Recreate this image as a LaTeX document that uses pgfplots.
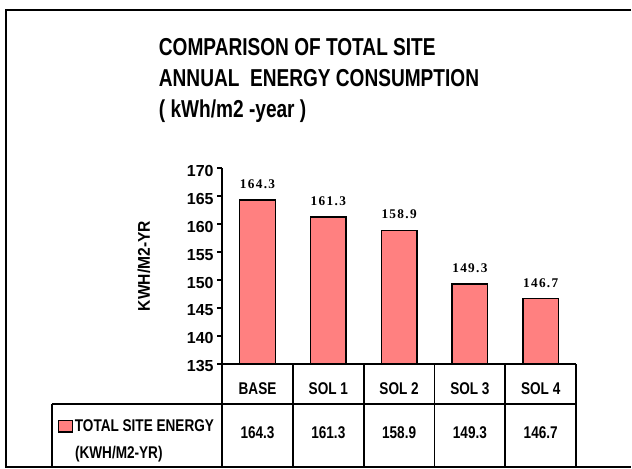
\documentclass[border=0pt]{standalone}
\usepackage{fontspec}
\setmainfont{Liberation Sans}
\usepackage{pgfplots}
\pgfplotsset{compat=1.18}
\newfontfamily\titlefont[FakeStretch=0.78]{Liberation Sans}
\newfontfamily\narrowfont[FakeStretch=0.8]{Liberation Sans}
\newfontfamily\ylabfont[FakeStretch=0.92]{Liberation Sans}
\newfontfamily\valfont[LetterSpace=10]{Liberation Serif}
\definecolor{barpink}{RGB}{255,128,128}

\pgfplotstableread{
x y
0 164.3
1 161.3
2 158.9
3 149.3
4 146.7
}\energy

\begin{document}
\begin{tikzpicture}
\begin{axis}[
  name=ax,
  scale only axis, width=354.5pt, height=196pt,
  clip=false,
  ymin=135, ymax=170, ytick={135,140,...,170},
  xmin=-0.5, xmax=4.5, xtick={0,1,2,3,4},
  xticklabels={{BASE\\[26.3pt]164.3},{SOL 1\\[26.3pt]161.3},{SOL 2\\[26.3pt]158.9},{SOL 3\\[26.3pt]149.3},{SOL 4\\[26.3pt]146.7}},
  axis x line*=bottom, axis y line*=left,
  axis line style={line width=1.8pt, black},
  tick align=outside, major tick length=5pt,
  ytick style={line width=1.5pt, black},
  xtick style={draw=none},
  /pgf/number format/assume math mode=true,
  yticklabel style={font=\bfseries\fontsize{16}{16}\selectfont, yshift=-2.5pt},
  xticklabel style={font=\narrowfont\bfseries\fontsize{17}{17}\selectfont, align=center, anchor=north, inner sep=0pt, yshift=-14pt},
  ylabel={KWH/M2-YR},
  ylabel style={font=\ylabfont\bfseries\fontsize{17}{17}\selectfont, at={(axis description cs:-0.2214,0.5)}, anchor=center},
  ybar, bar width=35.7pt,
  nodes near coords,
  nodes near coords style={font=\valfont\bfseries\fontsize{13.3}{13.3}\selectfont, anchor=base, inner sep=0pt, yshift=11.5pt, black},
  legend style={at={(axis description cs:-0.464,-0.319)}, anchor=west, draw=none, fill=none, inner sep=0pt,
     font=\narrowfont\bfseries\fontsize{17}{17}\selectfont, nodes={inner sep=1.5pt}},
  legend image code/.code={\draw[draw=black, fill=barpink, line width=1.3pt] (0pt,-5.8pt) rectangle (14pt,5.8pt);},
]
\addplot[fill=barpink, draw=black, line width=1.5pt] table[x=x, y=y] {\energy};
\addlegendentry{TOTAL SITE ENERGY}
\end{axis}

\begin{scope}[shift={(ax.south west)}, shift={(-222.5pt,-104.5pt)}, x=1pt, y=1pt]
\path (0,0) rectangle (632,469);
% outer frame
\draw[line width=2pt] (632,459) -- (6,459) -- (6,1.5) -- (632,1.5);
% title
\node[anchor=north west, align=left, inner sep=0,
      font=\titlefont\bfseries\fontsize{24.5}{31}\selectfont]
  at (159,431) {COMPARISON OF TOTAL SITE\\ANNUAL\ \ ENERGY CONSUMPTION\\( kWh/m2 -year )};
% data table grid
\draw[line width=1.8pt] (52,64.7) -- (577,64.7);
\draw[line width=1.8pt] (52,64.7) -- (52,1.5);
\foreach \xx in {222.5,293.4,364.3,435.2,506.1,577}
  \draw[line width=1.8pt] (\xx,104.5) -- (\xx,1.5);
\node[anchor=base west, inner sep=0, font=\narrowfont\bfseries\fontsize{17}{17}\selectfont] at (75,10) {(KWH/M2-YR)};
\end{scope}
\end{tikzpicture}
\end{document}
